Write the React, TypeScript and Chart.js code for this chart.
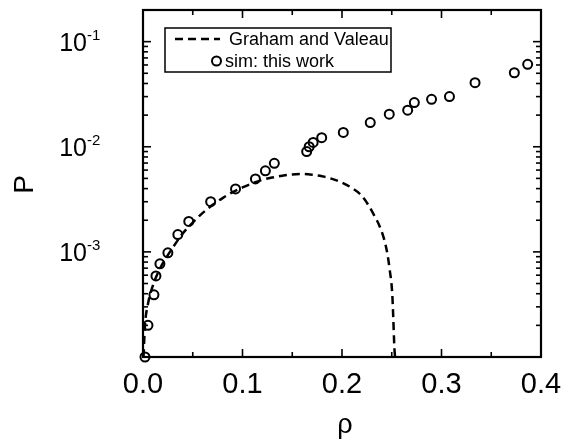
import React, { useEffect, useRef } from "react";
import { Chart, registerables } from "chart.js";

Chart.register(...registerables);

// Simulation points (sim: this work)
const simRho = [0.002, 0.005, 0.011, 0.013, 0.017, 0.025, 0.035, 0.046, 0.068, 0.093, 0.113, 0.123, 0.132, 0.1645, 0.167, 0.171, 0.1796, 0.2013, 0.2284, 0.2475, 0.266, 0.2727, 0.29, 0.308, 0.3337, 0.3732, 0.3866];
const simP = [1.0e-4, 2.0e-4, 3.9e-4, 5.9e-4, 7.7e-4, 9.8e-4, 1.46e-3, 1.95e-3, 3.0e-3, 3.97e-3, 4.94e-3, 5.9e-3, 6.95e-3, 9.0e-3, 1.0e-2, 1.1e-2, 1.22e-2, 1.37e-2, 1.7e-2, 2.04e-2, 2.23e-2, 2.63e-2, 2.83e-2, 3.0e-2, 4.07e-2, 5.06e-2, 6.08e-2];

// Graham and Valeau curve
const gvRho = [0.0005, 0.002, 0.005, 0.01, 0.015, 0.02, 0.03, 0.04, 0.05, 0.06, 0.07, 0.08, 0.09, 0.1, 0.11, 0.12, 0.13, 0.14, 0.15, 0.16, 0.17, 0.18, 0.19, 0.2, 0.21, 0.22, 0.231, 0.24, 0.245, 0.248, 0.2505, 0.2515, 0.2526, 0.2533];
const gvP = [1.0e-4, 2.0e-4, 3.2e-4, 4.8e-4, 6.3e-4, 7.8e-4, 1.1e-3, 1.5e-3, 1.9e-3, 2.35e-3, 2.8e-3, 3.25e-3, 3.7e-3, 4.1e-3, 4.5e-3, 4.85e-3, 5.1e-3, 5.3e-3, 5.45e-3, 5.5e-3, 5.42e-3, 5.25e-3, 4.95e-3, 4.55e-3, 4.05e-3, 3.4e-3, 2.35e-3, 1.55e-3, 1.03e-3, 6.7e-4, 4.0e-4, 2.4e-4, 1.25e-4, 1.0e-4];

const xMajorTicks = [0, 0.1, 0.2, 0.3, 0.4];
const xTickLabels = ["0.0", "0.1", "0.2", "0.3", "0.4"];
const xMinorTicks = [0.05, 0.15, 0.25, 0.35];
const yDecades = [1e-4, 1e-3, 1e-2, 1e-1];
const yLabelValues = [1e-3, 1e-2, 1e-1];
const yLabelExponents = ["-3", "-2", "-1"];
const legendLabels = ["Graham and Valeau", "sim: this work"];
const xTitle = "ρ";
const yTitle = "P";

const FONT = '"Liberation Sans", Arial, Helvetica, sans-serif';

const decor = {
  id: "decor",
  beforeDatasetsDraw(chart: any) {
    const { ctx, chartArea: a, scales } = chart;
    const x = scales.x;
    const y = scales.y;
    ctx.save();
    ctx.strokeStyle = "#000";
    ctx.lineWidth = 1.6;
    const line = (x1: number, y1: number, x2: number, y2: number) => {
      ctx.beginPath();
      ctx.moveTo(x1, y1);
      ctx.lineTo(x2, y2);
      ctx.stroke();
    };
    const xt = (v: number, len: number) => {
      const px = x.getPixelForValue(v);
      line(px, a.bottom, px, a.bottom - len);
      line(px, a.top, px, a.top + len);
    };
    xMajorTicks.forEach((v) => xt(v, 8));
    xMinorTicks.forEach((v) => xt(v, 5));
    const yt = (v: number, len: number) => {
      const py = y.getPixelForValue(v);
      if (py < a.top - 0.5 || py > a.bottom + 0.5) return;
      line(a.left, py, a.left + len, py);
      line(a.right, py, a.right - len, py);
    };
    yDecades.forEach((d) => {
      yt(d, 8);
      for (let m = 2; m <= 9; m++) {
        const v = m * d;
        if (v <= y.max) yt(v, 5);
      }
    });
    ctx.lineWidth = 2.2;
    ctx.strokeRect(a.left, a.top, a.right - a.left, a.bottom - a.top);
    ctx.restore();
  },
  afterDraw(chart: any) {
    const { ctx, chartArea: a, scales } = chart;
    const x = scales.x;
    const y = scales.y;
    ctx.save();
    ctx.fillStyle = "#000";
    // x tick labels
    ctx.font = `29px ${FONT}`;
    ctx.textAlign = "center";
    ctx.textBaseline = "alphabetic";
    xMajorTicks.forEach((v, i) => {
      ctx.fillText(xTickLabels[i], x.getPixelForValue(v), 393);
    });
    // y tick labels 10^n
    yLabelValues.forEach((v, i) => {
      const py = y.getPixelForValue(v);
      ctx.font = `25px ${FONT}`;
      ctx.textAlign = "right";
      ctx.textBaseline = "middle";
      ctx.fillText("10", 87, py + 2);
      ctx.font = `15px ${FONT}`;
      ctx.textAlign = "left";
      ctx.fillText(yLabelExponents[i], 87, py - 6);
    });
    // axis titles
    ctx.font = `27px ${FONT}`;
    ctx.textAlign = "center";
    ctx.textBaseline = "alphabetic";
    ctx.fillText(xTitle, (a.left + a.right) / 2 + 3, 433);
    ctx.save();
    ctx.translate(33, (a.top + a.bottom) / 2 + 1);
    ctx.rotate(-Math.PI / 2);
    ctx.font = `28px ${FONT}`;
    ctx.textAlign = "center";
    ctx.textBaseline = "alphabetic";
    ctx.fillText(yTitle, 0, 0);
    ctx.restore();
    // legend
    ctx.fillStyle = "#fff";
    ctx.fillRect(165, 28, 226, 44);
    ctx.strokeStyle = "#000";
    ctx.lineWidth = 1.5;
    ctx.strokeRect(165, 28, 226, 44);
    ctx.lineWidth = 2.5;
    ctx.setLineDash([8, 5]);
    ctx.beginPath();
    ctx.moveTo(175, 39);
    ctx.lineTo(220, 39);
    ctx.stroke();
    ctx.setLineDash([]);
    ctx.lineWidth = 2;
    ctx.beginPath();
    ctx.arc(216.5, 61, 4.5, 0, Math.PI * 2);
    ctx.stroke();
    ctx.fillStyle = "#000";
    ctx.font = `18px ${FONT}`;
    ctx.textAlign = "left";
    ctx.textBaseline = "middle";
    ctx.fillText(legendLabels[0], 229, 40);
    ctx.fillText(legendLabels[1], 225, 62);
    ctx.restore();
  },
};

export default function App() {
  const ref = useRef<HTMLCanvasElement | null>(null);
  useEffect(() => {
    document.body.style.margin = "0";
    const canvas = ref.current;
    if (!canvas) return;
    const chart = new Chart(canvas, {
      type: "scatter",
      data: {
        datasets: [
          {
            label: legendLabels[0],
            data: gvRho.map((r, i) => ({ x: r, y: gvP[i] })),
            showLine: true,
            borderColor: "#000",
            borderWidth: 2.5,
            borderDash: [8, 5],
            pointRadius: 0,
            cubicInterpolationMode: "monotone",
            clip: false,
          } as any,
          {
            label: legendLabels[1],
            data: simRho.map((r, i) => ({ x: r, y: simP[i] })),
            showLine: false,
            borderColor: "#000",
            backgroundColor: "rgba(0,0,0,0)",
            borderWidth: 2,
            pointRadius: 4.5,
            pointBorderWidth: 2,
            clip: false,
          } as any,
        ],
      },
      options: {
        responsive: false,
        animation: false,
        devicePixelRatio: 1,
        layout: { padding: { left: 143, right: 21, top: 10, bottom: 86 } },
        plugins: { legend: { display: false }, tooltip: { enabled: false } },
        scales: {
          x: { type: "linear", min: 0, max: 0.4, display: false },
          y: { type: "logarithmic", min: 1e-4, max: 0.2, display: false },
        },
      },
      plugins: [decor],
    });
    return () => chart.destroy();
  }, []);
  return (
    <div style={{ position: "absolute", left: 0, top: 0, width: 562, height: 443, background: "#fff" }}>
      <canvas ref={ref} width={562} height={443} />
    </div>
  );
}
